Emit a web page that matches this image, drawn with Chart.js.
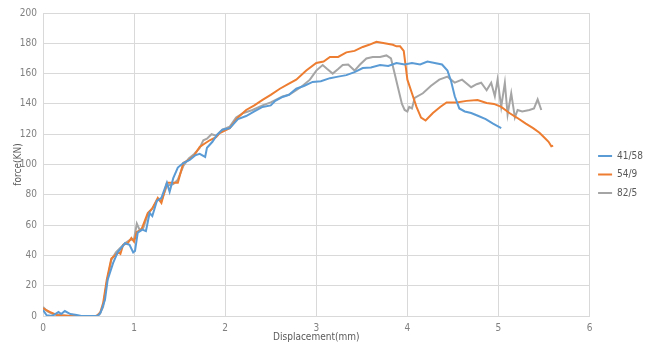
<!DOCTYPE html>
<html>
<head>
<meta charset="utf-8">
<script src="https://cdn.jsdelivr.net/npm/chart.js@4"></script>
<style>
  html, body { margin: 0; padding: 0; background: #fff; }
  #wrap { width: 646px; height: 344px; position: relative; }
</style>
</head>
<body>
<div id="wrap"><canvas id="forceChart" width="646" height="344"></canvas></div>
<script>
// series names (legend)
const seriesNames = ["41/58", "54/9", "82/5"];
const seriesColors = ["#5b9bd5", "#ed7d31", "#a5a5a5"];

// 41/58
const disp4158 = [0, 0.04, 0.1, 0.17, 0.2, 0.24, 0.3, 0.37, 0.42, 0.6, 0.63, 0.68, 0.71, 0.77, 0.82, 0.9, 0.95, 0.99, 1.01, 1.04, 1.09, 1.13, 1.17, 1.2, 1.25, 1.3, 1.36, 1.39, 1.43, 1.48, 1.54, 1.61, 1.67, 1.72, 1.78, 1.8, 1.86, 1.91, 1.97, 2.05, 2.14, 2.23, 2.32, 2.41, 2.5, 2.55, 2.63, 2.7, 2.78, 2.87, 2.96, 3.05, 3.15, 3.24, 3.33, 3.42, 3.51, 3.6, 3.7, 3.79, 3.88, 3.97, 4.05, 4.14, 4.22, 4.3, 4.38, 4.44, 4.48, 4.52, 4.57, 4.63, 4.7, 4.78, 4.86, 4.94, 5.03];
const force4158 = [4, 0.5, 0, 2.6, 1.3, 3.3, 1.3, 0.7, 0, 0, 2, 10.5, 24, 35, 42, 48, 47, 42, 43, 55, 57, 56, 68, 66, 76, 78, 88, 82, 91, 98, 101, 103, 106, 107, 105, 111, 115, 119.5, 123, 124, 130, 132, 135, 138, 139, 142, 144.6, 146, 150, 152, 154.5, 155, 157, 158, 159, 161, 163.7, 164, 165.7, 165, 167, 166, 167, 166, 168, 167, 166, 162, 155, 145, 137, 135, 134, 132, 130, 127, 124];

// 54/9
const disp549 = [0, 0.08, 0.15, 0.3, 0.59, 0.63, 0.66, 0.7, 0.75, 0.79, 0.83, 0.85, 0.88, 0.93, 0.97, 1.0, 1.03, 1.08, 1.15, 1.2, 1.26, 1.3, 1.36, 1.43, 1.48, 1.54, 1.6, 1.66, 1.72, 1.78, 1.83, 1.9, 1.94, 2.05, 2.14, 2.23, 2.32, 2.41, 2.5, 2.6, 2.69, 2.78, 2.89, 3.0, 3.08, 3.15, 3.24, 3.33, 3.42, 3.51, 3.58, 3.66, 3.75, 3.84, 3.88, 3.92, 3.96, 4.0, 4.05, 4.1, 4.15, 4.2, 4.28, 4.36, 4.43, 4.54, 4.65, 4.77, 4.87, 4.95, 5.03, 5.12, 5.2, 5.3, 5.38, 5.45, 5.5, 5.55, 5.58, 5.6];
const force549 = [5, 2.6, 0.7, 0, 0, 2.6, 8.5, 24, 38, 40, 42, 41, 47, 48, 51.5, 49, 55.5, 57, 68, 71, 78, 74.6, 88, 88, 88, 101, 103, 106, 111.6, 114, 116, 118, 120.7, 124, 131, 136, 139, 142.6, 146, 150, 153, 156, 162, 167, 168, 171, 171, 174, 175, 177.6, 179, 181, 180, 179, 178, 178, 175, 156, 147, 138, 131, 129, 134, 138, 141, 141, 142, 142.5, 140.6, 140, 138, 134, 131, 127, 124, 121, 118, 115, 112, 112.5];

// 82/5
const disp825 = [0, 0.05, 0.1, 0.2, 0.3, 0.58, 0.62, 0.66, 0.7, 0.75, 0.8, 0.85, 0.9, 0.95, 1.0, 1.03, 1.06, 1.1, 1.15, 1.2, 1.26, 1.3, 1.36, 1.43, 1.48, 1.54, 1.6, 1.66, 1.72, 1.76, 1.8, 1.85, 1.9, 1.97, 2.05, 2.12, 2.2, 2.3, 2.41, 2.5, 2.63, 2.7, 2.78, 2.85, 2.93, 3.0, 3.07, 3.12, 3.18, 3.24, 3.29, 3.35, 3.42, 3.48, 3.55, 3.62, 3.7, 3.77, 3.82, 3.86, 3.9, 3.94, 3.97, 4.0, 4.02, 4.05, 4.08, 4.17, 4.26, 4.35, 4.44, 4.52, 4.6, 4.7, 4.76, 4.81, 4.87, 4.92, 4.96, 4.99, 5.03, 5.07, 5.1, 5.14, 5.18, 5.21, 5.26, 5.34, 5.39, 5.43, 5.47];
const force825 = [6, 3, 1.5, 0.5, 0, 0, 1, 6, 22, 37, 42, 45, 48, 50, 51, 61, 57, 58, 67, 71, 77, 76, 86, 87, 90, 99, 104, 107, 111, 116, 117, 120, 119, 123, 125, 131, 134, 136, 139, 141, 145, 146, 149, 152, 156, 162, 165.7, 163, 160, 163, 165.7, 166, 162, 166, 170, 171, 171, 172, 170, 160, 150, 140, 136, 135, 138, 137, 144, 147, 152, 156, 158, 154, 156, 151, 153, 154, 149, 154, 145, 156, 138, 154, 133, 147, 131, 136, 135, 136, 137, 143, 136];

// axis ticks
const xTicks = [0, 1, 2, 3, 4, 5, 6];
const yTicks = [0, 20, 40, 60, 80, 100, 120, 140, 160, 180, 200];

const seriesX = [disp4158, disp549, disp825];
const seriesY = [force4158, force549, force825];

const FONT = '"Liberation Sans Narrow", "DejaVu Sans Condensed", sans-serif';

function toPoints(xs, ys) {
	return xs.map((x, i) => ({ x: x, y: ys[i] }));
}

// nudge legend up a little, like the original
const legendShift = {
	id: "legendShift",
	afterLayout(chart) {
		if (chart.legend) {
			chart.legend.top -= 4;
			chart.legend.bottom -= 4;
		}
	}
};

document.addEventListener("DOMContentLoaded", () => {

	const ctx = document.getElementById("forceChart");

	window.forceChart = new Chart(ctx, {
		type: "scatter",
		data: {
			datasets: seriesNames.map((name, i) => ({
				label: name,
				data: toPoints(seriesX[i], seriesY[i]),
				borderColor: seriesColors[i],
				backgroundColor: seriesColors[i],
				borderWidth: 2,
				showLine: true,
				pointRadius: 0,
				tension: 0
			}))
		},
		options: {
			responsive: false,
			animation: false,
			layout: {
				padding: { left: 8, top: 13, right: -7, bottom: 0 }
			},
			plugins: {
				legend: {
					position: "right",
					labels: {
						boxWidth: 14,
						boxHeight: 2,
						padding: 8.5,
						color: "#595959",
						font: { family: FONT, size: 10 },
						generateLabels: (chart) =>
							Chart.defaults.plugins.legend.labels.generateLabels(chart)
								.map(l => ({ ...l, lineWidth: 0 }))
					}
				},
				tooltip: { enabled: false }
			},
			scales: {
				x: {
					type: "linear",
					min: 0,
					max: 6,
					afterBuildTicks: (scale) => { scale.ticks = xTicks.map(v => ({ value: v })); },
					afterFit: (scale) => { scale.height = 28; },
					grid: { color: "#d9d9d9", drawTicks: false },
					border: { color: "#d9d9d9" },
					ticks: {
						padding: 6,
						color: "#808080",
						font: { family: FONT, size: 10 }
					},
					title: {
						display: true,
						text: "Displacement(mm)",
						color: "#595959",
						padding: { top: 0, bottom: 1 },
						font: { family: FONT, size: 10 }
					}
				},
				y: {
					min: 0,
					max: 200,
					afterBuildTicks: (scale) => { scale.ticks = yTicks.map(v => ({ value: v })); },
					afterFit: (scale) => { scale.width = 35; },
					grid: { color: "#d9d9d9", drawTicks: false },
					border: { color: "#d9d9d9" },
					ticks: {
						padding: 6,
						color: "#808080",
						font: { family: FONT, size: 10 }
					},
					title: {
						display: true,
						text: "force(KN)",
						color: "#595959",
						padding: { top: 4, bottom: 0 },
						font: { family: FONT, size: 10 }
					}
				}
			}
		},
		plugins: [legendShift]
	});
});
</script>
</body>
</html>
